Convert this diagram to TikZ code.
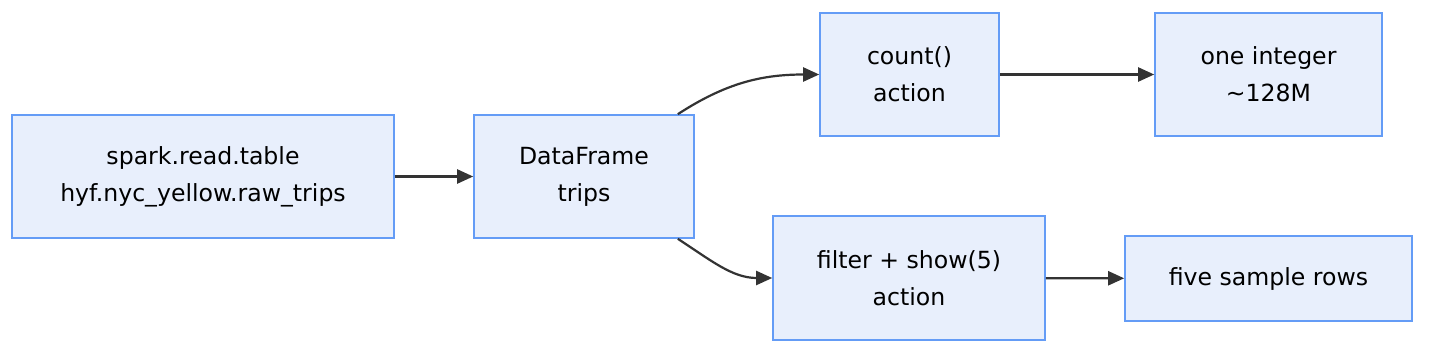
\documentclass[tikz,border=0pt]{standalone}
\usepackage{fontspec}
\setmainfont{DejaVu Sans}
\usetikzlibrary{arrows.meta,positioning}
\definecolor{StageFill}{RGB}{232,239,252}
\definecolor{StageLine}{RGB}{100,156,246}
\definecolor{FlowGray}{RGB}{51,51,51}
\tikzset{
  stage/.style={draw=StageLine,fill=StageFill,line width=0.8pt,
    inner sep=0pt,minimum height=61.5pt,align=center,
    font=\fontsize{11.8}{18.5}\selectfont},
  flow/.style={-{Triangle[length=8pt,width=7pt]},line width=1.1pt,FlowGray}
}

\begin{document}
\begin{tikzpicture}[x=0.5pt,y=-0.5pt]
  \useasboundingbox (0,0) rectangle (1440,358);
  % stages
  \node[stage,minimum width=191pt] (read) at (203,176.5)
    {spark.read.table\\hyf.nyc\_yellow.raw\_trips};
  \node[stage,minimum width=110pt] (frame) at (584,176.5) {DataFrame\\trips};
  \node[stage,minimum width=89.5pt] (count) at (909.5,74.5) {count()\\action};
  \node[stage,minimum width=113.5pt] (integer) at (1268.5,74.5) {one integer\\\textasciitilde128M};
  \node[stage,minimum width=136pt,minimum height=62pt] (filter) at (909,278)
    {filter + show(5)\\action};
  \node[stage,minimum width=143.5pt,minimum height=42.5pt] (rows) at (1268.5,278.5)
    {five sample rows};
  % flows
  \draw[flow] (read) -- (frame);
  \draw[flow] ([xshift=-8.5pt]frame.north east) to[out=33,in=180] (count.west);
  \draw[flow] ([xshift=-8.5pt]frame.south east) to[out=-33,in=180] (filter.west);
  \draw[flow] (count) -- (integer);
  \draw[flow] (filter) -- (rows);
\end{tikzpicture}
\end{document}
